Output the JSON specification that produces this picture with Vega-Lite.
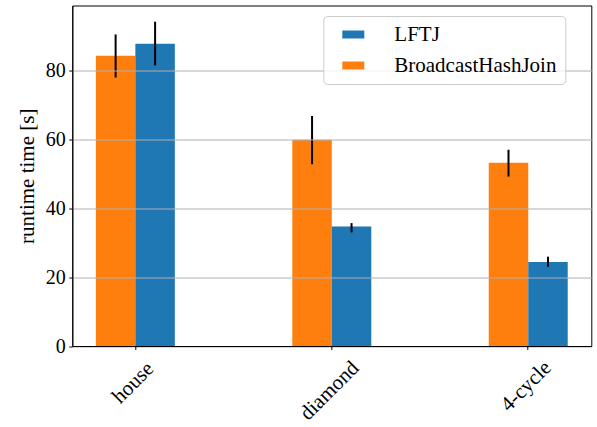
{
  "$schema": "https://vega.github.io/schema/vega-lite/v6.json",
  "width": 519,
  "height": 340.5,
  "autosize": {"type": "none"},
  "padding": {"left": 72.3, "top": 5.5, "right": 5.7, "bottom": 81},
  "background": "white",
  "config": {
    "font": "Liberation Serif",
    "view": {"stroke": "black", "strokeWidth": 1}
  },
  "data": {
    "values": [
      {"query": "house", "method": "BroadcastHashJoin", "runtime": 84.3, "lo": 78.0, "hi": 90.5},
      {"query": "house", "method": "LFTJ", "runtime": 87.8, "lo": 81.5, "hi": 94.2},
      {"query": "diamond", "method": "BroadcastHashJoin", "runtime": 59.9, "lo": 52.8, "hi": 66.8},
      {"query": "diamond", "method": "LFTJ", "runtime": 34.7, "lo": 33.0, "hi": 35.7},
      {"query": "4-cycle", "method": "BroadcastHashJoin", "runtime": 53.2, "lo": 49.2, "hi": 57.0},
      {"query": "4-cycle", "method": "LFTJ", "runtime": 24.4, "lo": 23.0, "hi": 25.95}
    ]
  },
  "encoding": {
    "x": {
      "field": "query",
      "type": "nominal",
      "sort": ["house", "diamond", "4-cycle"],
      "scale": {"paddingInner": 0.598, "paddingOuter": 0.12},
      "axis": {
        "title": null,
        "labelAngle": -45,
        "labelAlign": "center",
        "labelBaseline": "middle",
        "labelPadding": {"condition": [{"test": "datum.value === 'house'", "value": 33}, {"test": "datum.value === 'diamond'", "value": 41}], "value": 36.5},
        "labelOffset": -2,
        "labelFontSize": 21,
        "labelColor": "black",
        "labelOverlap": false,
        "labelBound": false,
        "tickColor": "black",
        "tickSize": 3.5,
        "tickWidth": 1,
        "domainColor": "black",
        "domainWidth": 1,
        "grid": false,
        "zindex": 1
      }
    }
  },
  "layer": [
    {
      "mark": {"type": "bar"},
      "encoding": {
        "xOffset": {
          "field": "method",
          "type": "nominal",
          "sort": ["BroadcastHashJoin", "LFTJ"],
          "scale": {"paddingInner": 0, "paddingOuter": 0}
        },
        "y": {
          "field": "runtime",
          "type": "quantitative",
          "scale": {"domain": [0, 98.9], "nice": false, "zero": true},
          "axis": {
            "title": "runtime time [s]",
            "titleFontSize": 21,
            "titleFontWeight": "normal",
            "titleColor": "black",
            "titlePadding": 8,
            "values": [0, 20, 40, 60, 80],
            "labelFontSize": 20,
            "labelColor": "black",
            "labelPadding": 3.5,
            "tickColor": "black",
            "tickSize": 3.5,
            "tickWidth": 1,
            "domainColor": "black",
            "domainWidth": 1,
            "grid": true,
            "gridColor": "#b0b0b0",
            "gridWidth": 1,
            "zindex": 1
          }
        },
        "color": {
          "field": "method",
          "type": "nominal",
          "scale": {"domain": ["LFTJ", "BroadcastHashJoin"], "range": ["#1f77b4", "#ff7f0e"]},
          "legend": {
            "title": null,
            "orient": "none",
            "legendX": 251,
            "legendY": 10.5,
            "zindex": 2,
            "symbolType": "M-1.0476,-0.381H1.0476V0.381H-1.0476Z",
            "symbolSize": 441,
            "symbolOffset": 11.5,
            "symbolStrokeWidth": 0,
            "symbolOpacity": 1,
            "labelFontSize": 21,
            "labelColor": "black",
            "labelOffset": 30.5,
            "labelLimit": 400,
            "rowPadding": 9,
            "padding": 8,
            "strokeColor": "#cccccc",
            "fillColor": "rgba(255,255,255,0.8)",
            "cornerRadius": 4
          }
        }
      }
    },
    {
      "mark": {"type": "rule", "color": "black", "strokeWidth": 2},
      "encoding": {
        "xOffset": {
          "field": "method",
          "type": "nominal",
          "sort": ["BroadcastHashJoin", "LFTJ"]
        },
        "y": {"field": "lo", "type": "quantitative"},
        "y2": {"field": "hi"}
      }
    }
  ]
}
